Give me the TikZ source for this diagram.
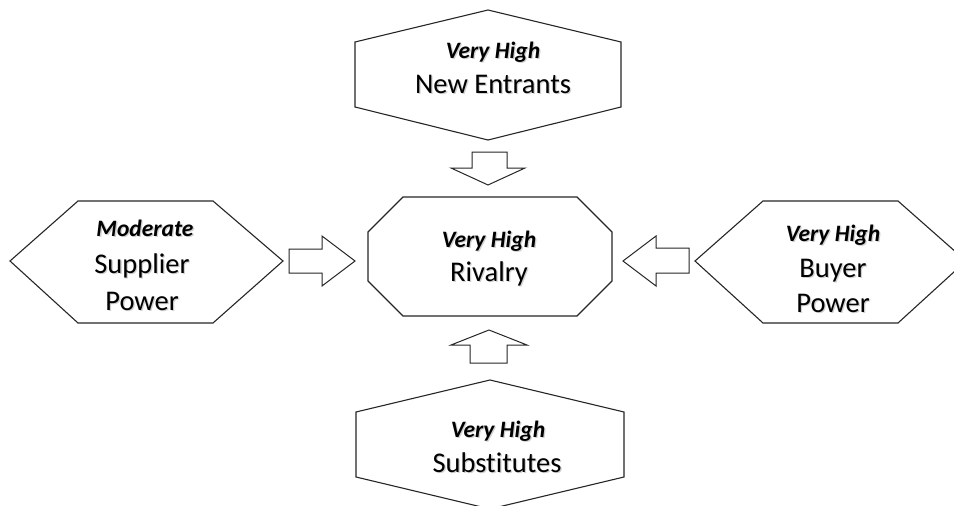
\documentclass[tikz,border=0pt]{standalone}
\usepackage{fontspec}
\setmainfont{Carlito}[Ligatures=NoCommon]
\newcommand\shd[1]{\leavevmode\rlap{\kern1.3pt\raisebox{-1.3pt}{\textcolor{black!18}{#1}}}#1}
\begin{document}
\begin{tikzpicture}[x=1pt,y=-1pt,
  shape line/.style={draw=black!85,line width=1.1pt,line join=miter,fill=white},
  arrow line/.style={draw=black!85,line width=1.0pt,line join=miter,fill=white},
  hdr/.style={anchor=base,inner sep=0pt,font=\fontsize{23.5}{26}\selectfont\bfseries\itshape},
  main/.style={anchor=base,inner sep=0pt,font=\fontsize{28.5}{32}\selectfont}]
\useasboundingbox (0,0) rectangle (954,506);
% top hexagon: New Entrants
\draw[shape line] (488,10) -- (621,42) -- (621,107) -- (488,140) -- (355,107) -- (355,42) -- cycle;
\node[hdr]  (ne1) at (493,58) {\shd{Very High}};
\node[main] (ne2) at (493,93) {\shd{New Entrants}};
% down arrow
\draw[arrow line] (472,152) -- (507,152) -- (507,168) -- (525,168) -- (488,185) -- (451,168) -- (472,168) -- cycle;
% center octagon: Rivalry
\draw[shape line] (403,197) -- (577,197) -- (612,232) -- (612,281) -- (577,316) -- (403,316) -- (368,281) -- (368,232) -- cycle;
\node[hdr]  (ri1) at (489,247) {\shd{Very High}};
\node[main] (ri2) at (489,281) {\shd{Rivalry}};
% left hexagon: Supplier Power
\draw[shape line] (10,261) -- (78,201) -- (213,201) -- (283,261) -- (213,323) -- (78,323) -- cycle;
\node[hdr]  (sp1) at (145,236) {\shd{Moderate}};
\node[main] (sp2) at (142,273) {\shd{Supplier}};
\node[main] (sp3) at (142,310) {\shd{Power}};
% right arrow
\draw[arrow line] (289,249) -- (322,249) -- (322,236) -- (355,261) -- (322,286) -- (322,273) -- (289,273) -- cycle;
% left arrow
\draw[arrow line] (689,248) -- (656,248) -- (656,236) -- (623,261) -- (656,286) -- (656,273) -- (689,273) -- cycle;
% right hexagon: Buyer Power
\draw[shape line] (695,261) -- (763,201) -- (898,201) -- (966,261) -- (898,323) -- (763,323) -- cycle;
\node[hdr]  (bp1) at (833,241) {\shd{Very High}};
\node[main] (bp2) at (833,277) {\shd{Buyer}};
\node[main] (bp3) at (833,312) {\shd{Power}};
% up arrow
\draw[arrow line] (470,363) -- (507,363) -- (507,345) -- (527,345) -- (489,330) -- (451,345) -- (470,345) -- cycle;
% bottom hexagon: Substitutes
\draw[shape line] (490,380) -- (624,412) -- (624,477) -- (490,509) -- (356,477) -- (356,412) -- cycle;
\node[hdr]  (su1) at (498,437) {\shd{Very High}};
\node[main] (su2) at (497,472) {\shd{Substitutes}};
\end{tikzpicture}
\end{document}
